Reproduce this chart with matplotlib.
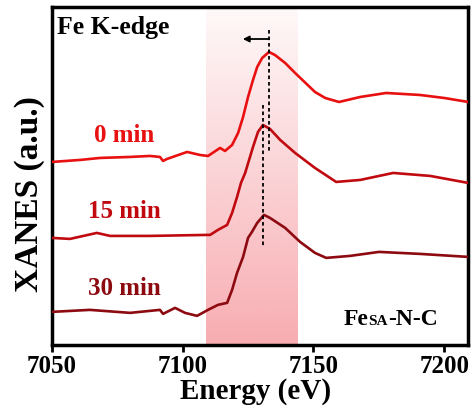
import numpy as np
import matplotlib
matplotlib.use("Agg")
import matplotlib.pyplot as plt

plt.rcParams['font.family'] = ['Liberation Serif', 'DejaVu Serif']
plt.rcParams['font.weight'] = 'bold'

# data (energy in eV, normalised XANES, offset per sample)
e_0min = [7050.0, 7060.7, 7068.4, 7079.9, 7087.5, 7091.3, 7092.5, 7094.0, 7101.7,
          7106.6, 7109.7, 7114.3, 7116.2, 7118.9, 7121.2, 7123.1, 7125.0, 7126.9,
          7128.5, 7130.4, 7133.0, 7135.3, 7139.2, 7143.0, 7150.6, 7154.5, 7159.8,
          7167.9, 7177.8, 7190.8, 7200.0, 7209.2]
y_0min = [1.83, 1.85, 1.87, 1.88, 1.89, 1.88, 1.84, 1.86, 1.93,
          1.90, 1.89, 1.97, 1.94, 2.00, 2.12, 2.28, 2.48, 2.65,
          2.78, 2.87, 2.93, 2.90, 2.82, 2.72, 2.53, 2.47, 2.43,
          2.48, 2.52, 2.50, 2.47, 2.43]

e_15min = [7050.0, 7056.9, 7067.2, 7072.2, 7087.5, 7109.3, 7110.5, 7113.5, 7117.0,
           7118.9, 7120.8, 7122.3, 7123.9, 7125.4, 7126.9, 7128.8, 7130.7, 7133.4,
           7137.3, 7143.0, 7150.6, 7158.7, 7167.9, 7180.5, 7194.7, 7209.2]
y_15min = [1.07, 1.06, 1.12, 1.09, 1.09, 1.10, 1.10, 1.15, 1.20,
           1.32, 1.48, 1.62, 1.72, 1.85, 1.98, 2.13, 2.20, 2.16,
           2.05, 1.92, 1.77, 1.63, 1.65, 1.72, 1.69, 1.62]

e_30min = [7050.0, 7064.5, 7079.9, 7091.3, 7092.5, 7097.1, 7100.9, 7105.5, 7109.7,
           7113.5, 7117.0, 7118.9, 7120.8, 7123.1, 7125.0, 7126.5, 7128.5, 7131.1,
           7133.4, 7139.2, 7144.9, 7150.6, 7154.9, 7164.0, 7175.1, 7190.8, 7209.2]
y_30min = [0.33, 0.35, 0.32, 0.35, 0.31, 0.37, 0.32, 0.29, 0.35,
           0.40, 0.42, 0.55, 0.72, 0.88, 1.07, 1.13, 1.22, 1.30,
           1.27, 1.17, 1.03, 0.92, 0.87, 0.89, 0.93, 0.91, 0.88]

labels = ['0 min', '15 min', '30 min']
colors = ['#e81010', '#c00a10', '#8c0a10']
label_pos = [0.621, 0.396, 0.166]

edge_peaks = [7133.0, 7130.7]
peak_span = [(3.15, 1.93), (2.40, 0.98)]
band = (7109, 7144)
xticks = [7050, 7100, 7150, 7200]

fig = plt.figure(figsize=(4.72, 4.13), dpi=100)
ax = fig.add_axes([0.110, 0.165, 0.882, 0.818])

# shaded edge region, fading to white toward the top
grad = np.linspace(0.5, 0.04, 256).reshape(-1, 1)
rgba = np.zeros((256, 1, 4))
rgba[..., 0] = 240 / 255
rgba[..., 1] = 90 / 255
rgba[..., 2] = 100 / 255
rgba[..., 3] = grad
ax.imshow(rgba, extent=[band[0], band[1], 0, 3.38], origin='lower',
          aspect='auto', zorder=0, interpolation='bilinear')

for e, y, c in zip([e_0min, e_15min, e_30min], [y_0min, y_15min, y_30min], colors):
    ax.plot(e, y, color=c, lw=1.9, zorder=3, solid_joinstyle='round')

for lab, c, yp in zip(labels, colors, label_pos):
    ax.text(0.173, yp, lab, transform=ax.transAxes, color=c, fontsize=18,
            fontweight='bold', ha='center', va='center')

for xp, (y1, y2) in zip(edge_peaks, peak_span):
    ax.plot([xp, xp], [y1, y2], color='black', ls=(0, (2, 1.6)), lw=1.3, zorder=4)

ax.annotate('', xy=(7123.0, 3.06), xytext=(7133.0, 3.06),
            arrowprops=dict(arrowstyle='-|>', color='black', lw=1.3,
                            mutation_scale=9, shrinkA=0, shrinkB=0))

ax.text(0.012, 0.94, 'Fe K-edge', transform=ax.transAxes, fontsize=18.5,
        fontweight='bold', ha='left', va='center')

# Fe(SA)-N-C with small caps "SA" on the baseline
fig.canvas.draw()
r = fig.canvas.get_renderer()
x0, yb = 0.700, 0.059
parts = [('Fe', 17), ('SA', 11), ('-N-C', 17)]
for txt, fs in parts:
    t = ax.text(x0, yb, txt, transform=ax.transAxes, fontsize=fs,
                fontweight='bold', ha='left', va='baseline')
    bb = t.get_window_extent(renderer=r).transformed(ax.transAxes.inverted())
    x0 = bb.x1

ax.set_xlim(7050, 7209.2)
ax.set_ylim(0, 3.38)
ax.set_xticks(xticks)
ax.set_yticks([])
ax.tick_params(axis='x', direction='out', length=5, width=2, labelsize=18, pad=2)
for lab in ax.get_xticklabels():
    lab.set_fontweight('bold')
for s in ax.spines.values():
    s.set_linewidth(2.5)

ax.set_xlabel('Energy (eV)', fontsize=21, fontweight='bold')
ax.xaxis.label.set_va('baseline')
ax.xaxis.set_label_coords(0.489, -0.160)
ax.set_ylabel('XANES (a.u.)', fontsize=24, fontweight='bold')
ax.yaxis.label.set_va('center')
ax.yaxis.set_label_coords(-0.055, 0.447)

fig.savefig('out.png', dpi=100)
